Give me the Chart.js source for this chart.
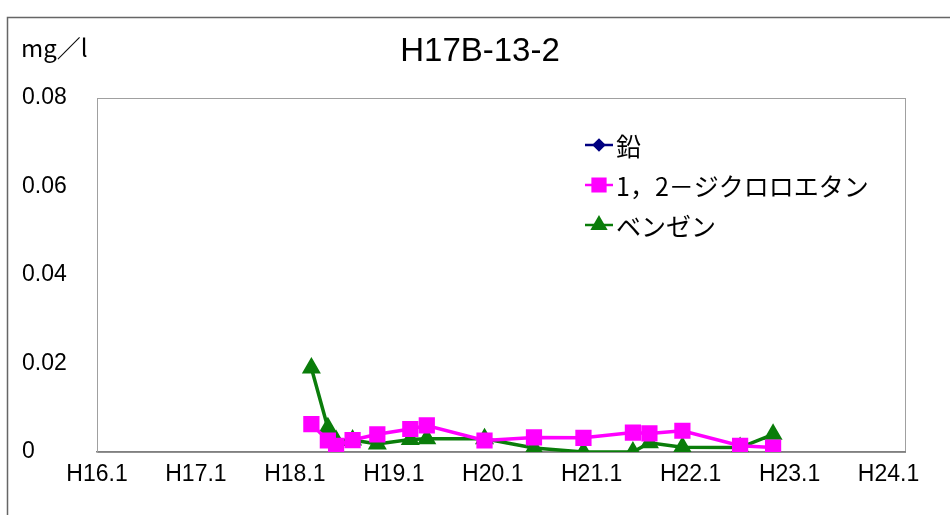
<!DOCTYPE html>
<html>
<head>
<meta charset="utf-8">
<script src="https://cdn.jsdelivr.net/npm/chart.js@4"></script>
<style>
  html, body { margin: 0; padding: 0; background: #fff; }
  .wrap { width: 950px; height: 515px; }
</style>
</head>
<body>
<div class="wrap"><canvas class="js-chart" width="950" height="515"></canvas></div>
<script>
const ctx = document.querySelector(".js-chart").getContext("2d");

// ===== data =====
const TITLE = "H17B-13-2";
const UNIT = "mg／l";
const TICK_LABELS = ["H16.1", "H17.1", "H18.1", "H19.1", "H20.1", "H21.1", "H22.1", "H23.1", "H24.1"];
const Y_TICKS = [0, 0.02, 0.04, 0.06, 0.08];
const DATES = ["H18.3", "H18.5", "H18.6", "H18.8", "H18.11", "H19.3", "H19.5", "H19.12",
  "H20.6", "H20.12", "H21.6", "H21.8", "H21.12", "H22.7", "H22.11"];
const LEAD = [null, null, null, null, null, null, null, null, null, null, null, null, null, null, null];
const DCE = [0.0063, 0.0026, 0.0014, 0.0027, 0.0040, 0.0052, 0.0060, 0.0026,
  0.0033, 0.0032, 0.0044, 0.0042, 0.0048, 0.0014, 0.0010];
const BENZENE = [0.0190, 0.0055, 0.0026, 0.0027, 0.0018, 0.0028, 0.0030, 0.0030,
  0.0009, 0.0000, 0.0000, 0.0021, 0.0011, 0.0010, 0.0040];

const FONT_LATIN = '"Liberation Sans", "Noto Sans CJK JP", sans-serif';
const FONT_JP = '"Noto Sans CJK JP", sans-serif';

// "H18.3" -> months since H16.1
function toMonth(label) {
  const [y, m] = label.slice(1).split(".").map(Number);
  return (y - 16) * 12 + (m - 1);
}

function toPoints(values) {
  return DATES.map((d, i) => ({ x: toMonth(d), y: values[i] }));
}

const frame = {
  id: "frame",
  beforeDraw(chart) {
    const c = chart.ctx;
    const a = chart.chartArea;
    c.save();
    c.strokeStyle = "#666";
    c.lineWidth = 1.5;
    c.strokeRect(7.5, 17.5, 960, 520);
    c.strokeStyle = "#a0a0a0";
    c.lineWidth = 1;
    c.strokeRect(a.left + 0.5, a.top + 0.5, a.right - a.left, a.bottom - a.top);
    c.restore();
  },
  afterDraw(chart) {
    const c = chart.ctx;
    c.save();
    c.fillStyle = "#000";
    c.textBaseline = "middle";
    c.textAlign = "center";
    c.font = "33px " + FONT_LATIN;
    c.fillText(TITLE, 480, 52);
    c.textAlign = "left";
    c.font = "24px " + FONT_JP;
    c.fillText(UNIT, 21, 48);

    // legend
    const x0 = 585;
    chart.data.datasets.forEach((ds, i) => {
      const y = 145 + i * 40;
      c.strokeStyle = ds.borderColor;
      c.fillStyle = ds.backgroundColor;
      c.lineWidth = 2.5;
      c.beginPath();
      c.moveTo(x0, y);
      c.lineTo(x0 + 28, y);
      c.stroke();
      Chart.helpers.drawPoint(c, {
        pointStyle: ds.pointStyle,
        radius: ds.pointRadius,
        borderWidth: 1,
        rotation: 0,
      }, x0 + 14, y);
      c.fillStyle = "#000";
      c.font = "25px " + FONT_JP;
      c.fillText(ds.label, x0 + 31, y + 1);
    });
    c.restore();
  },
};

new Chart(ctx, {
  type: "line",
  data: {
    datasets: [
      {
        label: "鉛",
        data: toPoints(LEAD),
        borderColor: "#000080",
        backgroundColor: "#000080",
        pointStyle: "rectRot",
        pointRadius: 5,
        borderWidth: 3,
      },
      {
        label: "1，2－ジクロロエタン",
        data: toPoints(DCE),
        borderColor: "#ff00ff",
        backgroundColor: "#ff00ff",
        pointStyle: "rect",
        pointRadius: 9,
        borderWidth: 3.5,
      },
      {
        label: "ベンゼン",
        data: toPoints(BENZENE),
        borderColor: "#0a7d0a",
        backgroundColor: "#0a7d0a",
        pointStyle: "triangle",
        pointRadius: 7.5,
        borderWidth: 3.5,
      },
    ],
  },
  options: {
    responsive: false,
    animation: false,
    layout: { padding: { left: 22, right: 45, top: 98, bottom: 23 } },
    plugins: {
      legend: { display: false },
      title: { display: false },
      tooltip: { enabled: false },
    },
    scales: {
      x: {
        type: "linear",
        min: 0,
        max: 98,
        afterBuildTicks(scale) {
          scale.ticks = TICK_LABELS.map((_, i) => ({ value: i * 12 }));
        },
        afterFit(scale) {
          scale.height = 40;
        },
        grid: { display: false },
        border: { display: true, color: "#808080", width: 1.5 },
        ticks: {
          color: "#000",
          font: { family: FONT_LATIN, size: 23 },
          padding: 1,
          maxRotation: 0,
          autoSkip: false,
          callback(value) {
            return TICK_LABELS[Math.round(value / 12)];
          },
        },
      },
      y: {
        min: 0,
        max: 0.08,
        afterBuildTicks(scale) {
          scale.ticks = Y_TICKS.map((v) => ({ value: v }));
        },
        afterFit(scale) {
          scale.width = 75;
        },
        grid: { display: false },
        border: { display: true, color: "#a0a0a0", width: 1 },
        ticks: {
          color: "#000",
          crossAlign: "far",
          font: { family: FONT_LATIN, size: 23 },
          callback(value) {
            return value === 0 ? "0" : value.toFixed(2);
          },
        },
      },
    },
  },
  plugins: [frame],
});
</script>
</body>
</html>
